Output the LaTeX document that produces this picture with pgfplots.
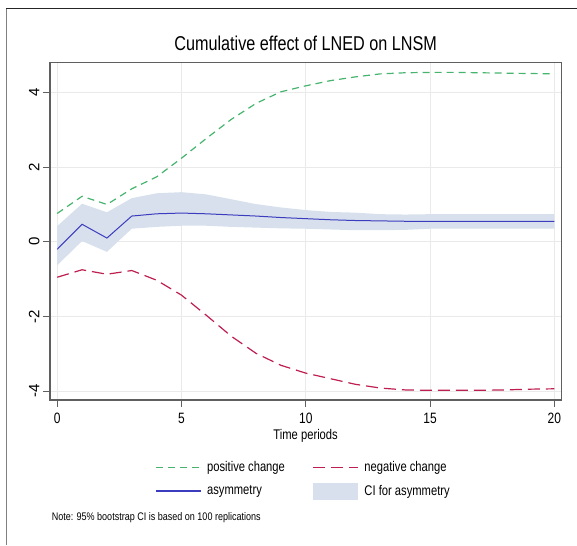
\documentclass[border=0pt]{standalone}
\usepackage{fontspec}
\setmainfont{Liberation Sans}
\usepackage{pgfplots}
\pgfplotsset{compat=1.18}
\usepackage{pgfplotstable}
\usepgfplotslibrary{fillbetween}

\definecolor{posgreen}{RGB}{70,180,110}
\definecolor{negred}{RGB}{190,30,80}
\definecolor{asyblue}{RGB}{60,60,190}
\definecolor{cifill}{RGB}{215,224,236}
\definecolor{gridgray}{RGB}{234,234,234}
\definecolor{framegray}{RGB}{95,95,95}

% cumulative multipliers
\pgfplotstableread{
t   pos    neg    asy    lo     hi
0   0.76  -0.95  -0.20  -0.63   0.42
1   1.22  -0.75   0.47   0.02   1.02
2   1.00  -0.87   0.10  -0.27   0.79
3   1.42  -0.77   0.69   0.35   1.17
4   1.74  -1.03   0.75   0.40   1.30
5   2.24  -1.43   0.77   0.43   1.33
6   2.77  -1.97   0.75   0.43   1.27
7   3.28  -2.53   0.72   0.40   1.14
8   3.71  -2.99   0.69   0.38   1.01
9   4.02  -3.31   0.65   0.36   0.92
10  4.18  -3.52   0.62   0.35   0.85
11  4.32  -3.67   0.59   0.33   0.80
12  4.42  -3.82   0.57   0.31   0.78
13  4.50  -3.92   0.56   0.31   0.74
14  4.53  -3.97   0.55   0.32   0.73
15  4.54  -3.98   0.55   0.35   0.74
16  4.54  -3.98   0.55   0.35   0.74
17  4.53  -3.98   0.55   0.35   0.74
18  4.52  -3.97   0.55   0.35   0.74
19  4.51  -3.95   0.55   0.35   0.74
20  4.50  -3.94   0.55   0.35   0.74
}\effects

\begin{document}
\begin{tikzpicture}
\draw[gray, line width=0.8pt] (6pt,0pt) -- (6pt,537pt);
\draw[black!85, line width=0.9pt] (6pt,537pt) -- (577pt,537pt);

\begin{axis}[
    at={(50pt,145pt)}, anchor=south west,
    width=511.3pt, height=337.3pt, scale only axis,
    xmin=-0.29, xmax=20.28,
    ymin=-4.24, ymax=4.80,
    xtick={0,5,...,20},
    ytick={-4,-2,...,4},
    tick align=outside,
    xtick pos=left, ytick pos=left,
    major tick length=7pt,
    every tick/.style={draw=framegray, line width=0.8pt},
    grid=major,
    major grid style={draw=gridgray, line width=1pt},
    axis line style={draw=framegray, line width=1.2pt},
    /pgf/number format/assume math mode=true,
    tick label style={font=\fontsize{15}{17}\selectfont},
    xticklabel style={xscale=0.8, yshift=-2.5pt},
    yticklabel style={rotate=90, anchor=south},
    title={Cumulative effect of LNED on LNSM},
    title style={font=\fontsize{20}{22}\selectfont, xscale=0.81,
        at={(axis description cs:0.5,1)}, anchor=base, yshift=6pt},
    xlabel={Time periods},
    xlabel style={font=\fontsize{14}{16}\selectfont, xscale=0.8,
        at={(axis description cs:0.5,0)}, anchor=north, inner sep=0pt, yshift=-28.8pt},
    legend columns=2,
    legend cell align=left,
    legend image code/.code={\draw[line width=1.3pt, #1] (0pt,0pt) -- (45pt,0pt);},
    legend style={at={(axis description cs:0.2054,-0.1765)}, anchor=north west,
        draw=none, fill=none, inner sep=0pt,
        font=\fontsize{14}{16}\selectfont,
        nodes={xscale=0.8},
        column sep=4pt, row sep=7.5pt,
        /tikz/every even column/.append style={column sep=26pt}},
]
\addplot[draw=none, forget plot, name path=hi] table[x=t, y=hi] {\effects};
\addplot[draw=none, forget plot, name path=lo] table[x=t, y=lo] {\effects};
\addplot[cifill, forget plot] fill between[of=hi and lo];

\addplot[posgreen, line width=1.2pt, dash pattern=on 7pt off 5pt] table[x=t, y=pos] {\effects};
\addlegendentry{positive change}
\addplot[negred, line width=1.2pt, dash pattern=on 12pt off 6pt] table[x=t, y=neg] {\effects};
\addlegendentry{negative change}
\addplot[asyblue, line width=1pt] table[x=t, y=asy] {\effects};
\addlegendentry{asymmetry}
\addlegendimage{legend image code/.code={\fill[cifill] (0pt,-8pt) rectangle (44pt,8pt);}}
\addlegendentry{CI for asymmetry}
\end{axis}

\node[anchor=west, inner sep=0pt, xscale=0.82, font=\fontsize{11}{13}\selectfont]
    at (51.6pt,27pt) {Note: 95\% bootstrap CI is based on 100 replications};
\pgfresetboundingbox
\path[use as bounding box] (0,0) rectangle (577pt,545pt);
\end{tikzpicture}
\end{document}
